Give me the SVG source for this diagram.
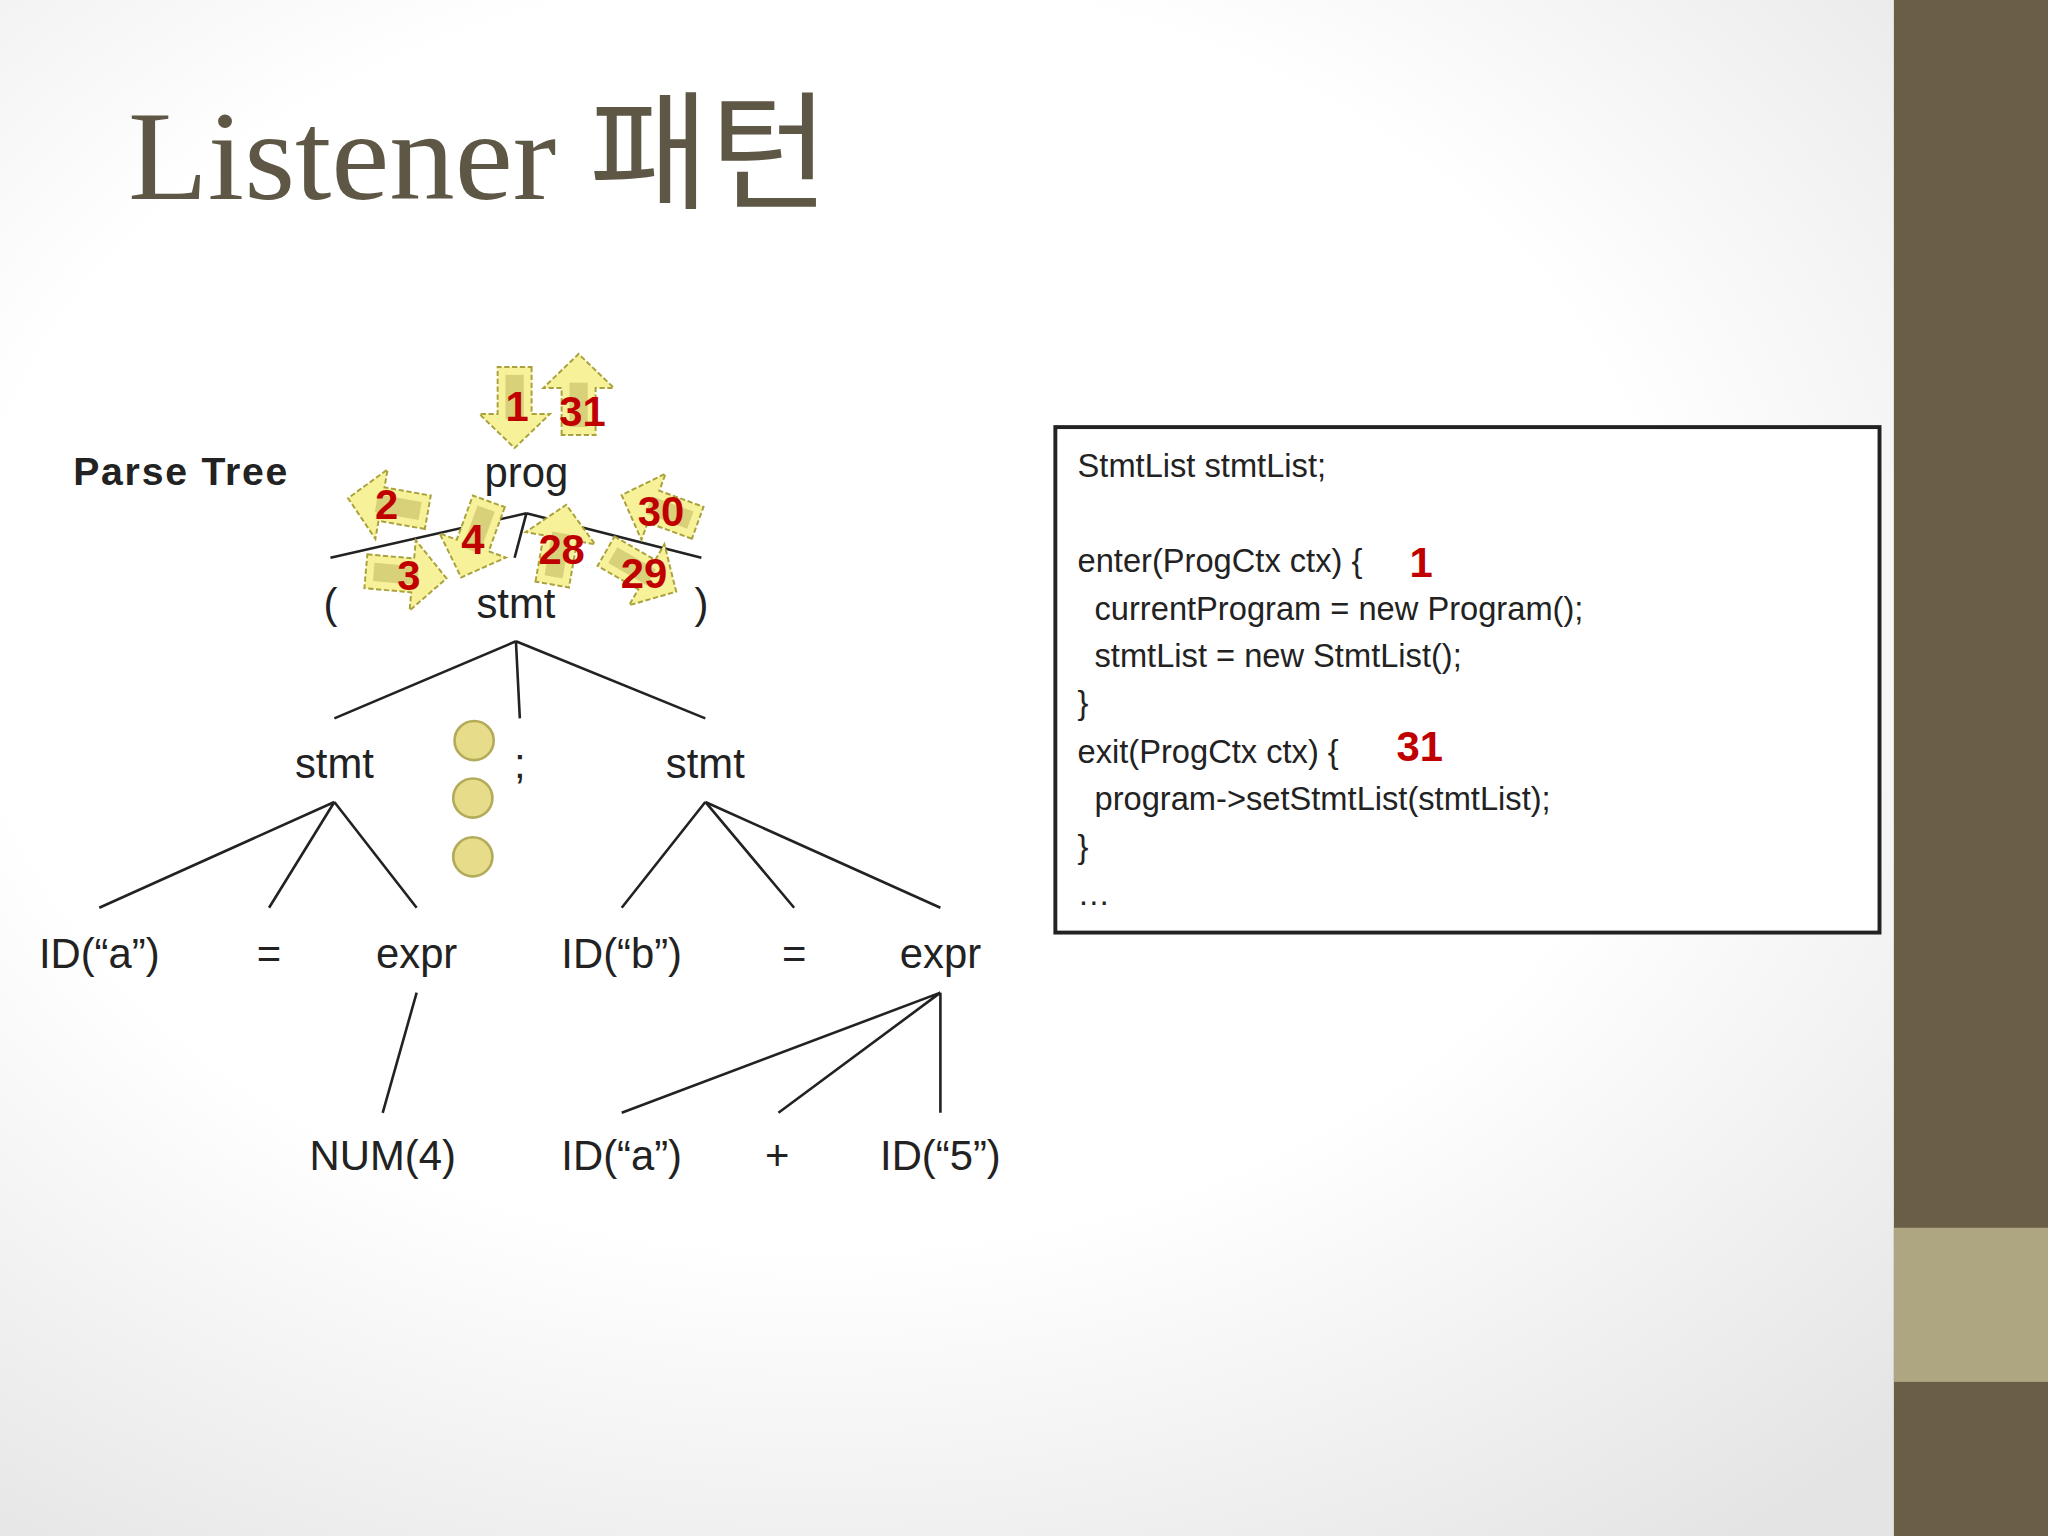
<svg xmlns="http://www.w3.org/2000/svg" width="2048" height="1536" viewBox="0 0 2048 1536">
<defs>
<radialGradient id="bg" cx="0.4" cy="0.4" r="0.75">
<stop offset="0.55" stop-color="#ffffff"/><stop offset="1" stop-color="#e4e4e4"/>
</radialGradient>
<polygon id="arr" points="-30,-13 6,-13 6,-27 32,0 6,27 6,13 -30,13"/>
<polygon id="arrin" points="-24,-7 10,-7 10,7 -24,7"/>
</defs>
<style>
.t{font-family:"Liberation Sans",Arial,sans-serif;fill:#222;font-size:32px;text-anchor:middle}
.c{font-family:"Liberation Sans",Arial,sans-serif;fill:#222;font-size:25px}
.n{font-family:"Liberation Sans",Arial,sans-serif;fill:#c00000;font-size:32px;font-weight:bold;text-anchor:middle}
.ln{stroke:#222;stroke-width:2;fill:none}
.a use:first-child{fill:#f7f29a;stroke:#a9a13c;stroke-width:1.5;stroke-dasharray:4 2}
.a use:nth-child(2){fill:#d9d07a}
</style>
<rect width="2048" height="1536" fill="url(#bg)"/>
<g transform="scale(1.30612)">
<rect x="1450" y="0" width="118" height="1176" fill="#6b5e46"/>
<rect x="1450" y="940" width="118" height="118" fill="#aea680"/>
<text x="98" y="152" font-family="'Liberation Serif','Noto Sans CJK KR',serif" font-size="98" fill="#5e5745" textLength="537" lengthAdjust="spacingAndGlyphs">Listener 패턴</text>
<text x="56" y="371" font-family="'Liberation Sans',Arial,sans-serif" font-weight="bold" font-size="30" fill="#222" textLength="164">Parse Tree</text>
<g id="connectors">
<path class="ln" d="M403,393 L253,427 M403,393 L537,427 M403,393 L394,427"/>
<path class="ln" d="M395,491 L256,550 M395,491 L398,550 M395,491 L540,550"/>
<path class="ln" d="M256,614 L76,695 M256,614 L206,695 M256,614 L319,695"/>
<path class="ln" d="M540,614 L476,695 M540,614 L608,695 M540,614 L720,695"/>
<path class="ln" d="M319,760 L293,852 M720,760 L476,852 M720,760 L596,852 M720,760 L720,852"/>
</g>
<g id="n-prog"><text class="t" x="403" y="373">prog</text></g>
<g id="n-lp"><text class="t" x="253" y="473">(</text></g>
<g id="n-stmt"><text class="t" x="395" y="473">stmt</text></g>
<g id="n-rp"><text class="t" x="537" y="473">)</text></g>
<g id="n-stmt1"><text class="t" x="256" y="596">stmt</text></g>
<g id="n-semi"><text class="t" x="398" y="596">;</text></g>
<g id="n-stmt2"><text class="t" x="540" y="596">stmt</text></g>
<g id="n-ida"><text class="t" x="76" y="741">ID(“a”)</text></g>
<g id="n-eq1"><text class="t" x="206" y="741">=</text></g>
<g id="n-expr1"><text class="t" x="319" y="741">expr</text></g>
<g id="n-idb"><text class="t" x="476" y="741">ID(“b”)</text></g>
<g id="n-eq2"><text class="t" x="608" y="741">=</text></g>
<g id="n-expr2"><text class="t" x="720" y="741">expr</text></g>
<g id="n-num"><text class="t" x="293" y="896">NUM(4)</text></g>
<g id="n-ida2"><text class="t" x="476" y="896">ID(“a”)</text></g>
<g id="n-plus"><text class="t" x="595" y="896">+</text></g>
<g id="n-id5"><text class="t" x="720" y="896">ID(“5”)</text></g>
<g id="dots" fill="#e6dc8a" stroke="#b3ab5a" stroke-width="2">
<circle cx="363" cy="567" r="15"/><circle cx="362" cy="611" r="15"/><circle cx="362" cy="656" r="15"/>
</g>
<g id="arrows">
<g class="a" transform="translate(394,311) rotate(90)"><use href="#arr"/><use href="#arrin"/></g>
<g class="a" transform="translate(443,303) rotate(-90)"><use href="#arr"/><use href="#arrin"/></g>
<g class="a" transform="translate(298,387) rotate(190)"><use href="#arr"/><use href="#arrin"/></g>
<g class="a" transform="translate(310,440) rotate(5)"><use href="#arr"/><use href="#arrin"/></g>
<g class="a" transform="translate(364,412) rotate(110)"><use href="#arr"/><use href="#arrin"/></g>
<g class="a" transform="translate(428,418) rotate(-80)"><use href="#arr"/><use href="#arrin"/></g>
<g class="a" transform="translate(506,390) rotate(200)"><use href="#arr"/><use href="#arrin"/></g>
<g class="a" transform="translate(490,437) rotate(30)"><use href="#arr"/><use href="#arrin"/></g>
<text class="n" x="396" y="322">1</text>
<text class="n" x="446" y="326">31</text>
<text class="n" x="296" y="397">2</text>
<text class="n" x="313" y="452">3</text>
<text class="n" x="362" y="424">4</text>
<text class="n" x="430" y="432">28</text>
<text class="n" x="506" y="403">30</text>
<text class="n" x="493" y="450">29</text>
</g>
<g id="code">
<rect x="808" y="327" width="631" height="387" fill="#fff" stroke="#222" stroke-width="3"/>
<text class="c" x="825" y="365">StmtList stmtList;</text>
<text class="c" x="825" y="438">enter(ProgCtx ctx) {</text>
<text class="c" x="838" y="475">currentProgram = new Program();</text>
<text class="c" x="838" y="511">stmtList = new StmtList();</text>
<text class="c" x="825" y="547">}</text>
<text class="c" x="825" y="584">exit(ProgCtx ctx) {</text>
<text class="c" x="838" y="620">program-&gt;setStmtList(stmtList);</text>
<text class="c" x="825" y="657">}</text>
<text class="c" x="825" y="693">…</text>
<text class="n" x="1088" y="442">1</text>
<text class="n" x="1087" y="583">31</text>
</g>
</g>
</svg>
